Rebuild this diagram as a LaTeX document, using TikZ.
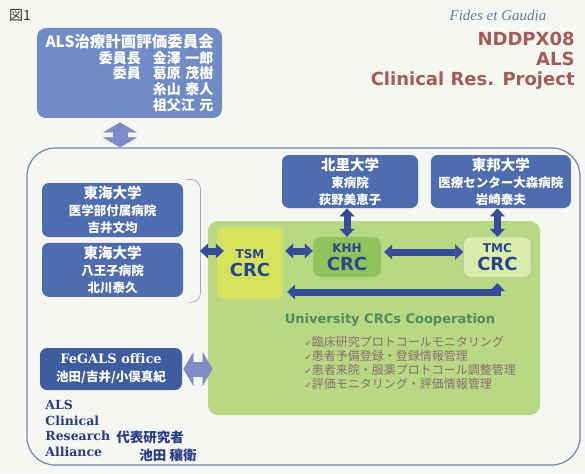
\documentclass[tikz,border=0pt]{standalone}
\usepackage{fontspec}
\setmainfont{DejaVu Sans}
\newfontfamily\jp{Noto Sans CJK JP}
\newfontfamily\symfont{DejaVu Sans}
\newfontfamily\mottofont{Liberation Serif}
\newfontfamily\slabfont{DejaVu Serif}
\usetikzlibrary{shapes.geometric, arrows.meta, positioning}

\definecolor{paper}{RGB}{246,246,242}
\definecolor{cmtblue}{RGB}{112,140,198}
\definecolor{uniblue}{RGB}{78,108,176}
\definecolor{officeblue}{RGB}{62,92,160}
\definecolor{frame}{RGB}{110,135,170}
\definecolor{coopgreen}{RGB}{184,216,132}
\definecolor{tsmyellow}{RGB}{214,226,92}
\definecolor{khhgreen}{RGB}{142,196,90}
\definecolor{tmcgreen}{RGB}{220,236,170}
\definecolor{crcblue}{RGB}{40,70,140}
\definecolor{darkarrow}{RGB}{52,78,152}
\definecolor{lightarrow}{RGB}{128,140,200}
\definecolor{cooptext}{RGB}{80,140,95}
\definecolor{listtext}{RGB}{140,110,110}
\definecolor{projred}{RGB}{165,92,85}
\definecolor{mottoblue}{RGB}{95,125,160}
\definecolor{alliance}{RGB}{40,60,135}

\newcommand{\bigline}[1]{{\fontsize{14.5}{17}\selectfont #1}}
\newcommand{\chk}{{\symfont\fontsize{9}{14}\selectfont ✓}}

\begin{document}
\begin{tikzpicture}[x=1pt, y=-1pt, node distance=5pt, font=\jp\bfseries\fontsize{12.5}{17}\selectfont, thick]
    % Styles
    \tikzstyle{cmtbox} = [rectangle, rounded corners=9pt, fill=cmtblue, text=white, minimum width=185pt, minimum height=90pt, text width=168pt, align=right, inner sep=0pt, font=\jp\bfseries\fontsize{14}{15.7}\selectfont]
    \tikzstyle{unibox} = [rectangle, rounded corners=7pt, fill=uniblue, text=white, minimum width=141pt, minimum height=54pt, align=center, inner sep=1pt]
    \tikzstyle{crcbox} = [rectangle, rounded corners=7pt, draw=khhgreen!70!black!40, thin, text=crcblue, minimum width=68pt, minimum height=40pt, align=center, inner sep=1pt, font=\rmfamily\bfseries\fontsize{12}{12}\selectfont]
    \tikzstyle{fatarrow} = [draw=lightarrow, line width=15pt, >={Triangle[width=34pt,length=10pt,line width=0.5pt]}, <->]
    \tikzstyle{crcarrow} = [draw=darkarrow, line width=7pt, >={Triangle[width=15pt,length=8pt,line width=0.5pt]}, <->]

    % Paper
    \fill[paper] (0,0) rectangle (585,473);
    \useasboundingbox (0,0) rectangle (585,473);

    % Title and project
    \node (fig) at (20,15) [font=\jp\fontsize{14}{14}\selectfont, text=black!80] {図1};
    \node (motto) [anchor=east, text=mottoblue, font=\mottofont\itshape\fontsize{15}{15}\selectfont] at (550,15) {Fides et Gaudia};
    \node (project) [anchor=north east, align=right, text=projred, inner sep=0pt, font=\rmfamily\bfseries\fontsize{18}{20}\selectfont] at (575,32) {NDDPX08\\ALS\\Clinical Res. Project};

    % Committee
    \node (committee) [cmtbox] at (129.5,73) {{\fontsize{15.5}{15.7}\selectfont ALS治療計画評価委員会}\\委員長\hspace{12pt}金澤 一郎\\委員\hspace{12pt}葛原 茂樹\\糸山 泰人\\祖父江 元};

    % Network frame and cooperation area
    \node (network) [draw=frame, line width=1.2pt, rounded corners=28pt, minimum width=553pt, minimum height=317pt, inner sep=0pt] at (303.5,306.5) {};
    \node (coop) [fill=coopgreen, rounded corners=10pt, minimum width=332pt, minimum height=194pt, inner sep=0pt] at (374,318) {};

    % Universities
    \node (tokaiA) [unibox] at (112.5,210) {\bigline{東海大学}\\医学部付属病院\\吉井文均};
    \node (tokaiB) [unibox, below=of tokaiA] {\bigline{東海大学}\\八王子病院\\北川泰久};
    \node (kitasato) [unibox, minimum width=136pt, minimum height=53pt] at (350,181.5) {\bigline{北里大学}\\東病院\\荻野美恵子};
    \node (toho) [unibox, minimum width=140pt, minimum height=53pt, right=12pt of kitasato] {\bigline{東邦大学}\\医療センター大森病院\\岩崎泰夫};

    % CRCs
    \node (tsm) [crcbox, fill=tsmyellow, minimum width=66pt, minimum height=72pt] at (250,263) {TSM\\[4pt]{\fontsize{18}{18}\selectfont CRC}};
    \node (khh) [crcbox, fill=khhgreen] at (347,257) {KHH\\[4pt]{\fontsize{18}{18}\selectfont CRC}};
    \node (tmc) [crcbox, fill=tmcgreen, draw=frame!60, right=82pt of khh] {TMC\\[4pt]{\fontsize{18}{18}\selectfont CRC}};

    \node (cooptitle) [text=cooptext, font=\rmfamily\bfseries\fontsize{13}{13}\selectfont] at (390,320) {University CRCs Cooperation};
    \node (tasks) [anchor=west, align=left, text=listtext, inner sep=0pt, font=\jp\fontsize{12}{14.2}\selectfont] at (304,363) {\chk 臨床研究プロトコールモニタリング\\\chk 患者予備登録・登録情報管理\\\chk 患者来院・服薬プロトコール調整管理\\\chk 評価モニタリング・評価情報管理};

    % Office
    \node (office) [unibox, fill=officeblue, minimum width=142pt, minimum height=42pt, font=\jp\bfseries\fontsize{12.5}{18}\selectfont] at (111,369) {{\slabfont\fontsize{13}{13}\selectfont FeGALS office}\\池田/吉井/小俣真紀};
    \node (alliancename) [anchor=north west, align=left, text=alliance, inner sep=0pt, font=\slabfont\bfseries\fontsize{12.5}{15.5}\selectfont] at (45,400) {ALS\\Clinical\\Research\\Alliance};
    \node (leadrole) [text=alliance, font=\jp\bfseries\fontsize{13.5}{14}\selectfont] at (150,437) {代表研究者};
    \node (leadname) [text=alliance, font=\jp\bfseries\fontsize{13.5}{14}\selectfont] at (168,455) {池田 穰衛};

    % Bracket round Tokai
    \coordinate (brk) at (200,251);
    \draw [frame, thin, rounded corners=9pt] ([xshift=4pt,yshift=3pt]tokaiA.north east) -| ([xshift=17pt,yshift=-5pt]tokaiB.south east) -- ([xshift=4pt,yshift=-5pt]tokaiB.south east);

    % Paths
    \draw [fatarrow] ([xshift=-9.5pt,yshift=-4pt]committee.south) -- ([xshift=-9.5pt]committee.south |- network.north);
    \draw [fatarrow] ([xshift=1pt]office.east) -- ([xshift=5pt]coop.west |- office.east);

    \draw [crcarrow] (brk) -- ([xshift=7pt]brk -| tsm.west);
    \draw [crcarrow] ([xshift=2pt,yshift=12pt]tsm.east) -- ([yshift=12pt]tsm.east -| khh.west);
    \draw [crcarrow] ([xshift=3pt,yshift=5pt]khh.east) -- ([yshift=5pt]khh.east -| tmc.west);
    \draw [crcarrow] (khh.north |- kitasato.south) -- (khh.north);
    \draw [crcarrow] (tmc.north |- toho.south) -- (tmc.north);
    \draw [crcarrow] ([xshift=4pt,yshift=-29pt]tsm.east) -| ([yshift=-6pt]tmc.south);

\end{tikzpicture}
\end{document}
